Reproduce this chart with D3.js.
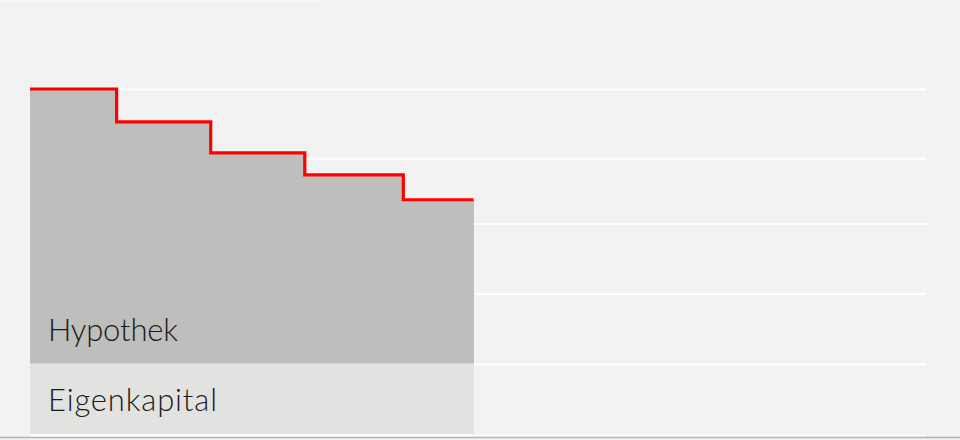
<!DOCTYPE html>
<html>
<head>
<meta charset="utf-8">
<script src="https://cdn.jsdelivr.net/npm/d3@7/dist/d3.min.js"></script>
<style>
  html, body { margin: 0; padding: 0; background: #f2f2f2; }
  svg { display: block; }
</style>
</head>
<body>
<svg id="chart" width="960" height="440"></svg>
<script>
// ---- data ----
const stepBounds   = [0, 2.9, 6.05, 9.2, 12.5, 14.85];   // x boundaries (years)
const eigenkapital = [20.3, 20.3, 20.3, 20.3, 20.3];      // equity share per period
const hypothek     = [79.7, 70.2, 61.2, 54.8, 47.6];      // mortgage share per period
const gridValues   = [0, 20.3, 40.7, 61, 79.9, 100];      // horizontal grid lines
const seriesLabels = ["Hypothek", "Eigenkapital"];

const svg = d3.select("#chart");
const W = 960, H = 440;

const x = d3.scaleLinear().domain([0, 30]).range([30, 926]);
const y = d3.scaleLinear().domain([0, 100]).range([434, 89]);

// background
svg.append("rect").attr("width", W).attr("height", H).attr("fill", "#f2f2f2");
svg.append("rect").attr("x", 0).attr("y", 0).attr("width", 320).attr("height", 2.5).attr("fill", "#f7f7f7");

// grid lines via axis
const grid = svg.append("g")
  .attr("transform", `translate(${x(0)},0)`)
  .call(d3.axisLeft(y).tickValues(gridValues).tickSize(-(x(30) - x(0))).tickFormat(""));
grid.select(".domain").remove();
grid.selectAll(".tick line").attr("stroke", "#ffffff").attr("stroke-width", 2);
grid.selectAll(".tick").filter(d => d === 0).attr("transform", `translate(0,${y(0) + 1.5})`);

// segments
const segs = hypothek.map((h, i) => ({
  x0: stepBounds[i], x1: stepBounds[i + 1], e: eigenkapital[i], h: h, total: eigenkapital[i] + h
}));

svg.append("g").selectAll("rect.hyp").data(segs).join("rect")
  .attr("class", "hyp")
  .attr("x", d => x(d.x0)).attr("width", d => x(d.x1) - x(d.x0))
  .attr("y", d => y(d.total)).attr("height", d => y(d.e) - y(d.total))
  .attr("fill", "#bebebc").attr("shape-rendering", "crispEdges");

svg.append("g").selectAll("rect.eig").data(segs).join("rect")
  .attr("class", "eig")
  .attr("x", d => x(d.x0)).attr("width", d => x(d.x1) - x(d.x0))
  .attr("y", d => y(d.e)).attr("height", d => y(0) - y(d.e))
  .attr("fill", "#e2e2e1").attr("shape-rendering", "crispEdges");

// separator between equity and mortgage (faint)
svg.append("line")
  .attr("x1", x(stepBounds[0])).attr("x2", x(stepBounds[stepBounds.length - 1]))
  .attr("y1", y(eigenkapital[0])).attr("y2", y(eigenkapital[0]))
  .attr("stroke", "#e8e8e6").attr("stroke-width", 1);

// red step line
const pts = segs.map(d => [d.x0, d.total]);
pts.push([segs[segs.length - 1].x1, segs[segs.length - 1].total]);
svg.append("path")
  .datum(pts)
  .attr("d", d3.line().x(d => x(d[0])).y(d => y(d[1])).curve(d3.curveStepAfter))
  .attr("fill", "none").attr("stroke", "#ff0000").attr("stroke-width", 3.2);

// bottom line
svg.append("line").attr("x1", 0).attr("x2", W).attr("y1", 437.5).attr("y2", 437.5)
  .attr("stroke", "#b4b4b4").attr("stroke-width", 1.5);

// labels
const labelWidths = [130, 169];
const labelY = [340.5, 410.5];
seriesLabels.forEach((t, i) => {
  svg.append("text").text(t)
    .attr("x", 48).attr("y", labelY[i])
    .attr("font-family", "Lato, 'Open Sans', sans-serif").attr("font-weight", 300)
    .attr("font-size", 31).attr("fill", "#1a1a1a")
    .attr("textLength", labelWidths[i]).attr("lengthAdjust", "spacing");
});
</script>
</body>
</html>
